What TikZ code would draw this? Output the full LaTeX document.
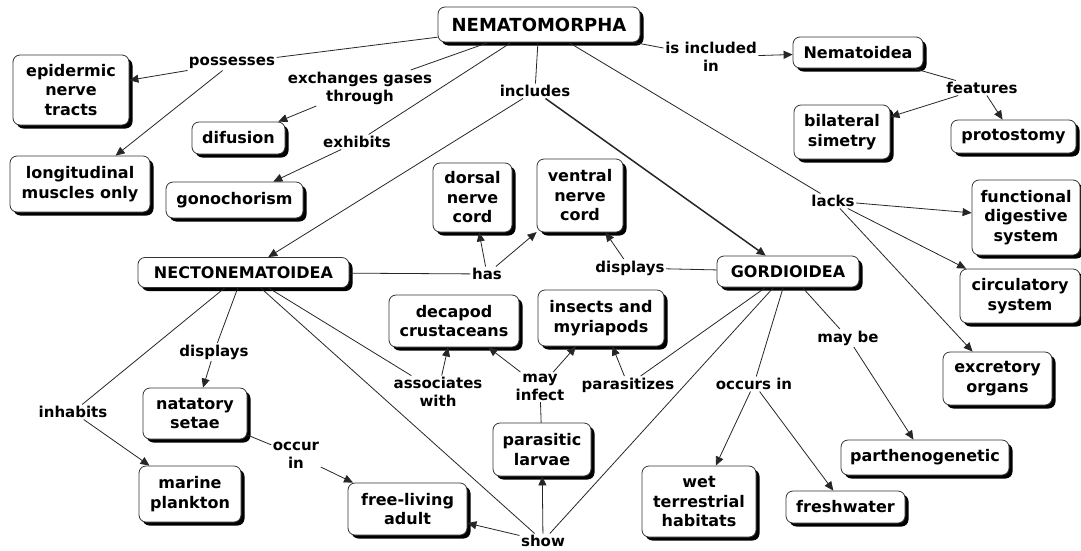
\documentclass[tikz,border=0pt]{standalone}
\usepackage{fontspec}
\setmainfont{DejaVu Sans}
\usetikzlibrary{arrows.meta,shadows}
\begin{document}
\begin{tikzpicture}[x=1pt,y=-1pt,
 concept/.style={draw=black!80, line width=0.8pt, rounded corners=7pt, fill=white, align=center, inner sep=0pt,
   font=\fontsize{16}{19.5}\selectfont\bfseries,
   drop shadow={shadow xshift=3.5pt, shadow yshift=-3.5pt, fill=black, opacity=1}},
 lab/.style={align=center, inner sep=1.5pt, font=\fontsize{15}{18}\selectfont\bfseries},
 link/.style={draw=black!85, line width=0.8pt},
 arr/.style={link, -{Triangle[length=9pt,width=8pt]}}]
\useasboundingbox (0,0) rectangle (1081,550);

% concepts
\node[concept, minimum width=202, minimum height=35, font=\fontsize{18}{20}\selectfont\bfseries] (nema) at (539,24.5) {NEMATOMORPHA};
\node[concept, minimum width=116, minimum height=70] (epi) at (71,90) {epidermic\\nerve\\tracts};
\node[concept, minimum width=140, minimum height=56] (longi) at (80,184) {longitudinal\\muscles only};
\node[concept, minimum width=93, minimum height=32] (difu) at (238.5,138) {difusion};
\node[concept, minimum width=137, minimum height=36] (gono) at (234.5,200) {gonochorism};
\node[concept, minimum width=130, minimum height=31] (nematoidea) at (858,52.5) {Nematoidea};
\node[concept, minimum width=96, minimum height=54] (bilat) at (842,132) {bilateral\\simetry};
\node[concept, minimum width=125, minimum height=33] (proto) at (1013.5,136.5) {protostomy};
\node[concept, minimum width=108, minimum height=75] (func) at (1026,217.5) {functional\\digestive\\system};
\node[concept, minimum width=120, minimum height=54] (circ) at (1020,296) {circulatory\\system};
\node[concept, minimum width=109, minimum height=53] (excr) at (997.5,378.5) {excretory\\organs};
\node[concept, minimum width=79, minimum height=69] (dorsal) at (472.5,197.5) {dorsal\\nerve\\cord};
\node[concept, minimum width=86, minimum height=73] (ventral) at (580,195.5) {ventral\\nerve\\cord};
\node[concept, minimum width=211, minimum height=30] (necto) at (243.5,272.5) {NECTONEMATOIDEA};
\node[concept, minimum width=142, minimum height=31] (gord) at (788,271.5) {GORDIOIDEA};
\node[concept, minimum width=104, minimum height=51] (natat) at (195,413.5) {natatory\\setae};
\node[concept, minimum width=102, minimum height=56] (marine) at (190,494) {marine\\plankton};
\node[concept, minimum width=130, minimum height=52] (decap) at (454,321) {decapod\\crustaceans};
\node[concept, minimum width=126, minimum height=56] (insects) at (601,318) {insects and\\myriapods};
\node[concept, minimum width=98, minimum height=53] (larvae) at (542,449.5) {parasitic\\larvae};
\node[concept, minimum width=119, minimum height=52] (free) at (407.5,509) {free-living\\adult};
\node[concept, minimum width=114, minimum height=71] (wet) at (699,501.5) {wet\\terrestrial\\habitats};
\node[concept, minimum width=168, minimum height=35] (parth) at (925,457.5) {parthenogenetic};
\node[concept, minimum width=119, minimum height=32] (fresh) at (845.5,507) {freshwater};

% linking phrases
\node[lab] (poss) at (232,63) {possesses};
\node[lab] (exch) at (360,88) {exchanges gases\\through};
\node[lab] (exhi) at (357,142) {exhibits};
\node[lab] (incl) at (535,91) {includes};
\node[lab] (isinc) at (711,57) {is included\\in};
\node[lab] (feat) at (982,88) {features};
\node[lab] (lacks) at (833,201) {lacks};
\node[lab] (has) at (487,274) {has};
\node[lab] (disR) at (630,268) {displays};
\node[lab] (disL) at (214,352) {displays};
\node[lab] (inhab) at (73,412) {inhabits};
\node[lab] (occur) at (296,455) {occur\\in};
\node[lab] (assoc) at (438,392) {associates\\with};
\node[lab] (mayinf) at (540,387) {may\\infect};
\node[lab] (paras) at (628,385) {parasitizes};
\node[lab] (show) at (543,541) {show};
\node[lab] (occurs) at (754,384) {occurs in};
\node[lab] (maybe) at (848,338) {may be};

% connectors
\draw[link] (nema) -- (poss);
\draw[arr] (poss) -- (epi);
\draw[arr] (poss) -- (longi);
\draw[link] (nema) -- (exch);
\draw[arr] (exch) -- (difu);
\draw[link] (nema) -- (exhi);
\draw[arr] (exhi) -- (gono);
\draw[link] (nema) -- (incl);
\draw[arr] (incl) -- (necto);
\draw[arr, line width=1.5pt] (incl) -- (gord);
\draw[link] (nema) -- (isinc);
\draw[arr] (isinc) -- (nematoidea);
\draw[link] (nematoidea) -- (feat);
\draw[arr] (feat) -- (bilat);
\draw[arr] (feat) -- (proto);
\draw[link] (nema) -- (lacks);
\draw[arr] (lacks) -- (func);
\draw[arr] (lacks) -- (circ);
\draw[arr] (lacks) -- (excr);
\draw[link] (necto) -- (has);
\draw[arr] (has) -- (dorsal);
\draw[arr] (has) -- (ventral);
\draw[link] (gord) -- (disR);
\draw[arr] (disR) -- (ventral);
\draw[link] (necto) -- (disL);
\draw[arr] (disL) -- (natat);
\draw[link] (necto) -- (inhab);
\draw[arr] (inhab) -- (marine);
\draw[link] (natat) -- (occur);
\draw[arr] (occur) -- (free);
\draw[link] (necto) -- (assoc);
\draw[arr] (assoc) -- (decap);
\draw[link] (necto) -- (show);
\draw[link] (gord) -- (show);
\draw[arr] (show) -- (free);
\draw[arr] (show) -- (larvae);
\draw[link] (larvae) -- (mayinf);
\draw[arr] (mayinf) -- (decap);
\draw[arr] (mayinf) -- (insects);
\draw[link] (gord) -- (paras);
\draw[arr] (paras) -- (insects);
\draw[link] (gord) -- (occurs);
\draw[arr] (occurs) -- (wet);
\draw[arr] (occurs) -- (fresh);
\draw[link] (gord) -- (maybe);
\draw[arr] (maybe) -- (parth);
\end{tikzpicture}
\end{document}
